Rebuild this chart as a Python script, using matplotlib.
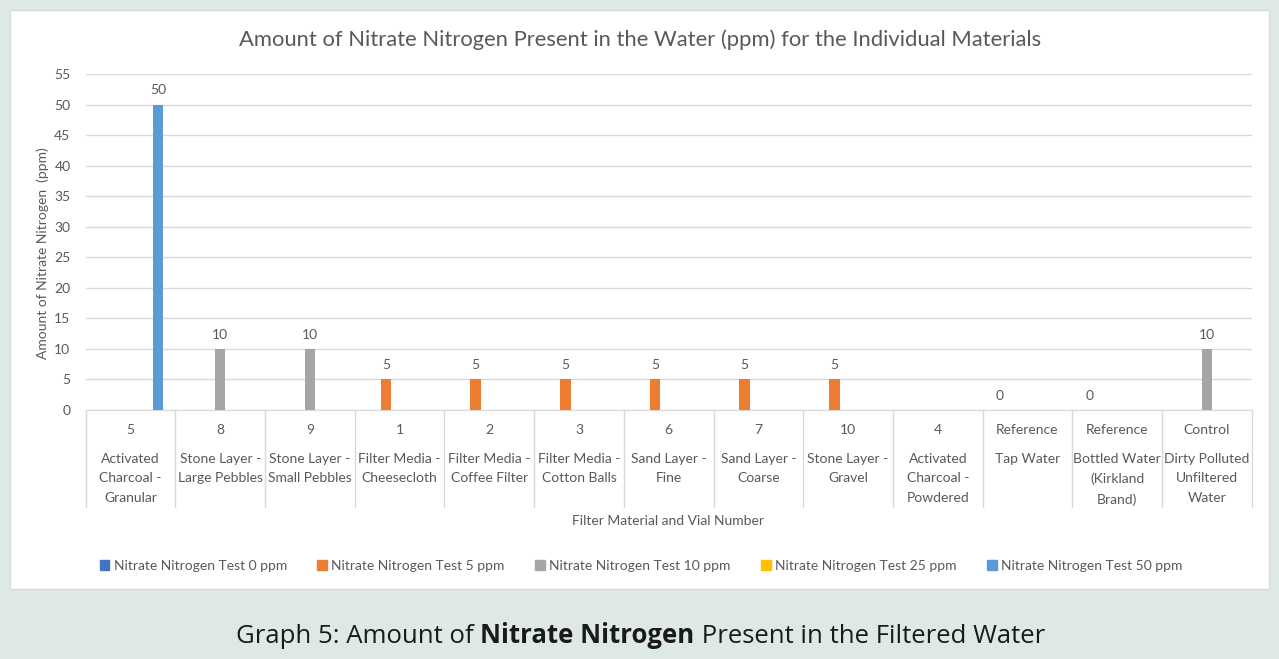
import matplotlib.pyplot as plt
import matplotlib.patches as mpatches
import matplotlib.transforms as mtransforms
import numpy as np

# data
vial_numbers = ['5', '8', '9', '1', '2', '3', '6', '7', '10', '4',
                'Reference', 'Reference', 'Control']
materials = ['Activated\nCharcoal -\nGranular', 'Stone Layer -\nLarge Pebbles',
             'Stone Layer -\nSmall Pebbles', 'Filter Media -\nCheesecloth',
             'Filter Media -\nCoffee Filter', 'Filter Media -\nCotton Balls',
             'Sand Layer -\nFine', 'Sand Layer -\nCoarse', 'Stone Layer -\nGravel',
             'Activated\nCharcoal -\nPowdered', 'Tap Water',
             'Bottled Water\n(Kirkland\nBrand)', 'Dirty Polluted\nUnfiltered\nWater']
series_names = ['Nitrate Nitrogen Test 0 ppm', 'Nitrate Nitrogen Test 5 ppm',
                'Nitrate Nitrogen Test 10 ppm', 'Nitrate Nitrogen Test 25 ppm',
                'Nitrate Nitrogen Test 50 ppm']
N = None
test_0 = [N, N, N, N, N, N, N, N, N, N, 0, 0, N]
test_5 = [N, N, N, 5, 5, 5, 5, 5, 5, N, N, N, N]
test_10 = [N, 10, 10, N, N, N, N, N, N, N, N, N, 10]
test_25 = [N] * 13
test_50 = [50, N, N, N, N, N, N, N, N, N, N, N, N]
all_series = [test_0, test_5, test_10, test_25, test_50]
colors = ['#4472C4', '#ED7D31', '#A5A5A5', '#FFC000', '#5B9BD5']

txt = '#595959'
grid = '#D9D9D9'
W, H = 1279, 659

fig = plt.figure(figsize=(W / 100, H / 100), dpi=100, facecolor='#DEE8E7')
# white chart panel
fig.patches.append(mpatches.Rectangle((10 / W, 1 - 589 / H), 1259 / W, 579 / H,
                                      transform=fig.transFigure, facecolor='white',
                                      edgecolor='#D6DCDC', linewidth=1, zorder=-5))

ax = fig.add_axes([85.7 / W, 1 - 410 / H, 1166 / W, 336 / H])
ax.set_facecolor('white')
x = np.arange(len(vial_numbers))
slot = 0.1525
bw = 0.117
for i, s in enumerate(all_series):
    vals = np.array([np.nan if v is None else v for v in s], dtype=float)
    bars = ax.bar(x + (i - 2) * slot, vals, width=bw, color=colors[i],
                  label=series_names[i], zorder=3, linewidth=0)
    labs = ['' if v is None else str(v) for v in s]
    ax.bar_label(bars, labels=labs, padding=6, color=txt, fontsize=10, family='Lato')

ax.set_xlim(-0.5, len(x) - 0.5)
ax.set_ylim(0, 55)
ax.set_yticks(np.arange(0, 56, 5))
ax.set_xticks([])
ax.tick_params(axis='y', length=0, pad=11, labelsize=10, labelcolor=txt)
for lab in ax.get_yticklabels():
    lab.set_family('Lato')
ax.yaxis.grid(True, color=grid, linewidth=1, zorder=0)
ax.set_axisbelow(True)
for side in ['top', 'right', 'left']:
    ax.spines[side].set_visible(False)
ax.spines['bottom'].set_color(grid)

# multi-level category axis
tr = mtransforms.blended_transform_factory(ax.transData, fig.transFigure)
for k in range(len(x) + 1):
    ax.plot([k - 0.5, k - 0.5], [1 - 410 / H, 1 - 507 / H], transform=tr,
            color=grid, linewidth=1, clip_on=False)
for i in x:
    ax.text(i, 1 - 430 / H, vial_numbers[i], transform=tr, ha='center', va='center',
            fontsize=10, color=txt, family='Lato')
    ax.text(i, 1 - 453 / H, materials[i], transform=tr, ha='center', va='top',
            fontsize=10, color=txt, family='Lato', linespacing=1.74)

fig.text(668 / W, 1 - 521 / H, 'Filter Material and Vial Number', ha='center',
         va='center', fontsize=10, color=txt, family='Lato')
fig.text(43 / W, 1 - 253 / H, 'Amount of Nitrate Nitrogen  (ppm)', rotation=90,
         ha='center', va='center', fontsize=10, color=txt, family='Lato')
fig.text(640 / W, 1 - 40 / H,
         'Amount of Nitrate Nitrogen Present in the Water (ppm) for the Individual Materials',
         ha='center', va='center', fontsize=15.8, color=txt, family='Lato')

handles = [mpatches.Patch(color=c) for c in colors]
fig.legend(handles, series_names, loc='center', bbox_to_anchor=(641 / W, 1 - 566 / H),
           ncol=5, frameon=False, handlelength=0.7, handleheight=0.7,
           handletextpad=0.3, columnspacing=2.2, labelcolor=txt,
           prop={'family': 'Lato', 'size': 10})

# caption below the panel, with the bold part
t1 = fig.text(236 / W, 1 - 643 / H, 'Graph 5: Amount of ', ha='left', va='baseline',
              fontsize=18.5, color='#1A1A1A', family='Open Sans')
t2 = ax.annotate('Nitrate Nitrogen', xy=(1, 0), xycoords=t1, va='bottom', ha='left',
                 fontsize=18.5, color='#1A1A1A', family='Open Sans', fontweight='bold')
ax.annotate(' Present in the Filtered Water', xy=(1, 0), xycoords=t2, va='bottom',
            ha='left', fontsize=18.5, color='#1A1A1A', family='Open Sans')

fig.savefig('out.png', dpi=100, facecolor=fig.get_facecolor())
